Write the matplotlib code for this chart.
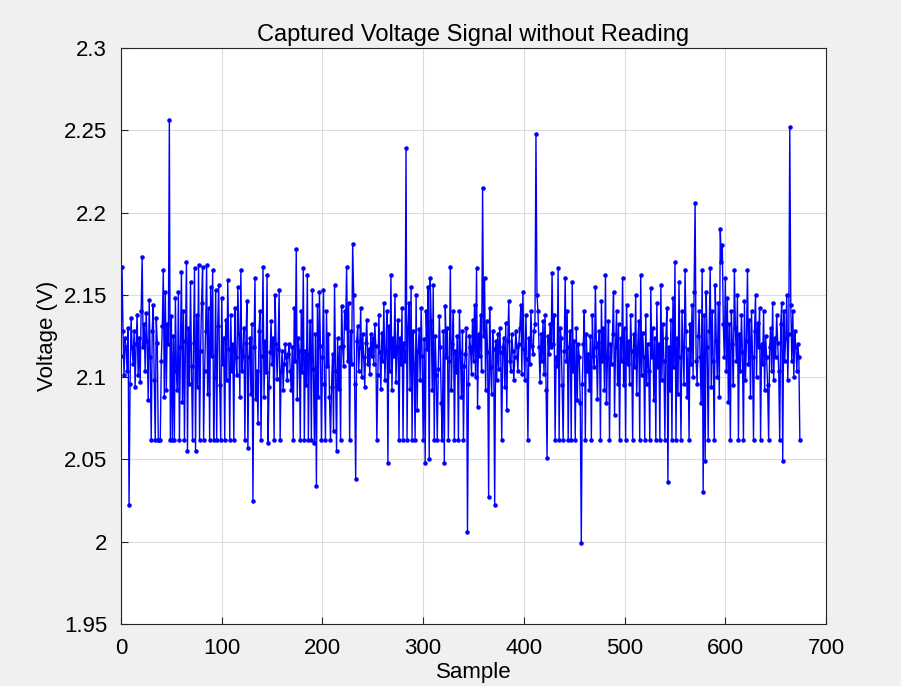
import numpy as np
import matplotlib

matplotlib.use("Agg")
import matplotlib.pyplot as plt

# readings in millivolts above 2.000 V
mv_rows = [
    [113, 167, 128, 101, 124, 118, 104, 130, 22, 96, 136, 118, 108, 128, 94, 120, 138, 101, 124, 97, 140, 173, 118, 132, 104],
    [139, 122, 86, 147, 112, 62, 128, 144, 98, 62, 136, 121, 62, 62, 62, 110, 131, 165, 88, 152, 92, 132, 120, 256, 62],
    [137, 62, 125, 62, 148, 104, 92, 152, 62, 118, 164, 85, 140, 62, 122, 170, 55, 130, 96, 158, 107, 62, 121, 166, 55],
    [138, 94, 168, 62, 116, 145, 167, 62, 104, 128, 168, 90, 142, 62, 155, 113, 165, 62, 100, 153, 62, 131, 156, 95, 62],
    [148, 108, 124, 62, 135, 98, 159, 117, 62, 138, 104, 120, 62, 142, 112, 101, 155, 126, 88, 165, 104, 113, 130, 62, 121],
    [146, 57, 112, 124, 90, 132, 25, 118, 160, 87, 104, 72, 128, 140, 62, 113, 167, 88, 122, 103, 162, 60, 94, 115, 134],
    [108, 124, 62, 150, 120, 99, 117, 153, 62, 104, 116, 92, 108, 120, 112, 98, 114, 120, 104, 92, 118, 62, 142, 110, 178],
    [87, 124, 116, 62, 140, 103, 166, 62, 116, 95, 162, 62, 114, 134, 62, 153, 105, 60, 126, 34, 144, 88, 152, 119, 62],
    [112, 153, 96, 62, 140, 107, 126, 88, 62, 94, 114, 67, 156, 104, 55, 124, 93, 118, 62, 143, 119, 107, 140, 130, 167],
    [110, 145, 62, 128, 108, 181, 150, 96, 38, 122, 131, 104, 118, 142, 100, 126, 112, 94, 121, 135, 108, 117, 102, 126, 113],
    [124, 108, 132, 119, 62, 101, 138, 115, 93, 127, 110, 145, 98, 116, 140, 48, 131, 104, 162, 92, 124, 113, 150, 97, 118],
    [135, 62, 124, 108, 142, 62, 121, 110, 239, 62, 130, 145, 93, 155, 62, 128, 108, 62, 150, 80, 116, 129, 98, 142, 113],
    [62, 123, 48, 140, 117, 155, 50, 160, 134, 92, 156, 62, 125, 101, 62, 105, 137, 118, 84, 62, 128, 48, 143, 112, 130],
    [62, 110, 167, 92, 120, 140, 62, 116, 103, 125, 62, 140, 115, 88, 128, 62, 107, 114, 130, 6, 96, 125, 118, 102, 135],
    [110, 144, 100, 166, 82, 126, 113, 138, 104, 215, 125, 160, 92, 134, 115, 27, 142, 106, 90, 128, 117, 22, 122, 98, 126],
    [105, 130, 115, 62, 118, 124, 94, 133, 80, 122, 146, 110, 104, 126, 116, 98, 112, 128, 118, 104, 120, 130, 144, 102, 152],
    [117, 98, 138, 111, 62, 124, 108, 140, 119, 114, 128, 132, 248, 150, 140, 118, 97, 126, 110, 134, 102, 138, 92, 51, 125],
    [114, 132, 118, 163, 120, 138, 62, 112, 107, 166, 62, 130, 124, 95, 62, 116, 160, 110, 140, 62, 118, 128, 62, 158, 104],
    [122, 62, 130, 86, 120, 112, 84, -1, 96, 120, 140, 62, 126, 104, 114, 92, 125, 62, 138, 113, 106, 155, 118, 87, 121],
    [128, 62, 146, 110, 130, 92, 162, 84, 112, 134, 62, 120, 108, 126, 152, 77, 118, 140, 96, 132, 62, 124, 110, 160, 95],
    [130, 62, 144, 108, 122, 96, 138, 116, 62, 126, 106, 150, 90, 118, 134, 62, 162, 101, 127, 112, 62, 138, 96, 120, 104],
    [62, 154, 112, 130, 86, 124, 62, 145, 106, 120, 62, 156, 98, 132, 110, 62, 124, 142, 36, 118, 92, 135, 62, 148, 106],
    [170, 62, 124, 90, 158, 112, 62, 140, 118, 96, 165, 128, 88, 117, 62, 132, 108, 144, 100, 152, 206, 110, 96, 125, 140],
    [112, 84, 165, 30, 138, 49, 152, 118, 62, 128, 166, 94, 140, 110, 62, 156, 122, 100, 145, 88, 190, 170, 180, 132, 112],
    [160, 104, 148, 85, 132, 62, 140, 120, 95, 165, 130, 110, 150, 62, 126, 104, 138, 115, 62, 146, 98, 122, 165, 108, 135],
    [88, 140, 112, 62, 128, 150, 100, 133, 118, 142, 62, 120, 108, 140, 92, 125, 112, 95, 62, 118, 130, 104, 145, 98, 124],
    [112, 138, 121, 104, 62, 132, 145, 49, 140, 110, 124, 150, 98, 126, 252, 144, 110, 140, 100, 128, 118, 104, 120, 112, 62],
]

voltage = 2.0 + np.array([v for row in mv_rows for v in row]) / 1000.0
sample = np.arange(len(voltage))

plt.rcParams["font.family"] = ["Liberation Sans", "DejaVu Sans"]

fig = plt.figure(figsize=(9.01, 6.86), dpi=100, facecolor="#f0f0f0")
ax = fig.add_axes([0.1343, 0.0904, 0.7825, 0.8397])
ax.set_facecolor("white")

ax.plot(sample, voltage, color="#0000ff", linewidth=1.0, marker=".", markersize=4.5)

ax.set_xlim(0, 700)
ax.set_ylim(1.95, 2.3)
ax.set_xticks(np.arange(0, 701, 100))
ax.set_yticks([1.95, 2.0, 2.05, 2.1, 2.15, 2.2, 2.25, 2.3])
ax.set_yticklabels(["1.95", "2", "2.05", "2.1", "2.15", "2.2", "2.25", "2.3"])
ax.grid(True, color="#dcdcdc", linewidth=0.8)
ax.set_axisbelow(True)
ax.tick_params(labelsize=16, direction="in", length=5, color="#262626", labelcolor="black")
ax.tick_params(axis="x", pad=10)
ax.tick_params(axis="y", pad=10)
for spine in ax.spines.values():
    spine.set_color("#262626")
    spine.set_linewidth(0.8)

ax.set_title("Captured Voltage Signal without Reading", fontsize=17, pad=5)
ax.set_xlabel("Sample", fontsize=16, labelpad=2)
ax.set_ylabel("Voltage (V)", fontsize=16, labelpad=4)

fig.savefig("out.png", dpi=100, facecolor=fig.get_facecolor())
